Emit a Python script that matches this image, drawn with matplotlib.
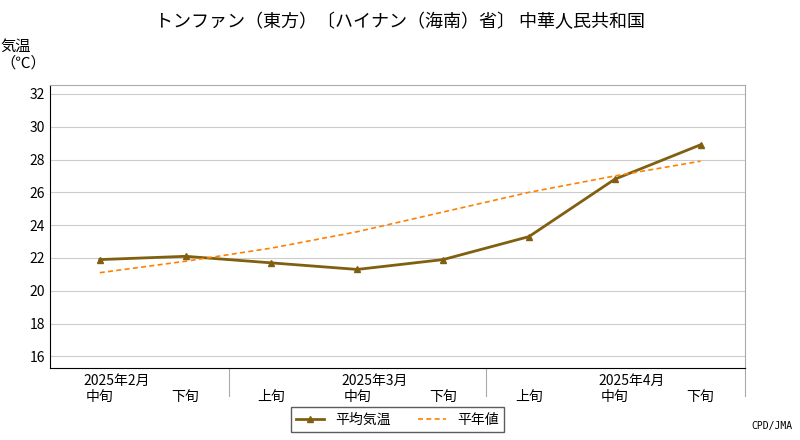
import matplotlib
matplotlib.use('Agg')
import matplotlib.pyplot as plt

plt.rcParams['font.family'] = 'Noto Sans CJK JP'

sub_labels = ['中旬', '下旬', '上旬', '中旬', '下旬', '上旬', '中旬', '下旬']
month_labels = ['2025年2月', '2025年3月', '2025年4月']
month_pos = [0.2, 3.2, 6.2]
sep_pos = [1.5, 4.5]
avg_temp = [21.9, 22.1, 21.7, 21.3, 21.9, 23.3, 26.8, 28.9]
normal = [21.1, 21.8, 22.6, 23.6, 24.8, 26.0, 27.0, 27.9]

fig = plt.figure(figsize=(8, 4.4), dpi=100)
ax = fig.add_axes([0.0625, 0.164, 0.869, 0.643])
x = list(range(len(avg_temp)))
ax.plot(x, avg_temp, color='#806010', lw=2, marker='^', ms=5, label='平均気温')
ax.plot(x, normal, color='#ff8000', lw=1.2, ls='--', dashes=(3, 2), label='平年値')
ax.set_xlim(-0.58, 7.52)
ax.set_ylim(15.3, 32.55)
ax.set_yticks(range(16, 33, 2))
ax.grid(axis='y', color='#cccccc', lw=0.8)
ax.set_axisbelow(True)
ax.set_xticks(x)
ax.set_xticklabels(sub_labels, fontsize=10)
ax.tick_params(axis='x', length=0, pad=16)
ax.tick_params(axis='y', length=0, labelsize=10)
for s in ['top', 'right']:
    ax.spines[s].set_color('#aaaaaa')
for m, p in zip(month_labels, month_pos):
    ax.text(p, -0.02, m, transform=ax.get_xaxis_transform(), ha='center', va='top', fontsize=10)
for p in sep_pos:
    ax.plot([p, p], [0, -0.1], transform=ax.get_xaxis_transform(), color='#aaaaaa', lw=0.8, clip_on=False)
ax.plot([7.52, 7.52], [0, -0.1], transform=ax.get_xaxis_transform(), color='#aaaaaa', lw=0.8, clip_on=False)

fig.text(0.5, 0.95, 'トンファン（東方）〔ハイナン（海南）省〕 中華人民共和国', ha='center', va='center', fontsize=13)
fig.text(0.0, 0.875, '気温\n（℃）', ha='left', va='center', fontsize=11, linespacing=1.0)
ax.legend(loc='upper center', bbox_to_anchor=(0.5, -0.115), ncol=2, fontsize=10,
          frameon=True, fancybox=False, edgecolor='#333333', handlelength=2)
fig.text(0.99, 0.02, 'CPD/JMA', ha='right', va='bottom', fontsize=7, family='DejaVu Sans Mono')
fig.savefig('out.png', dpi=100)
